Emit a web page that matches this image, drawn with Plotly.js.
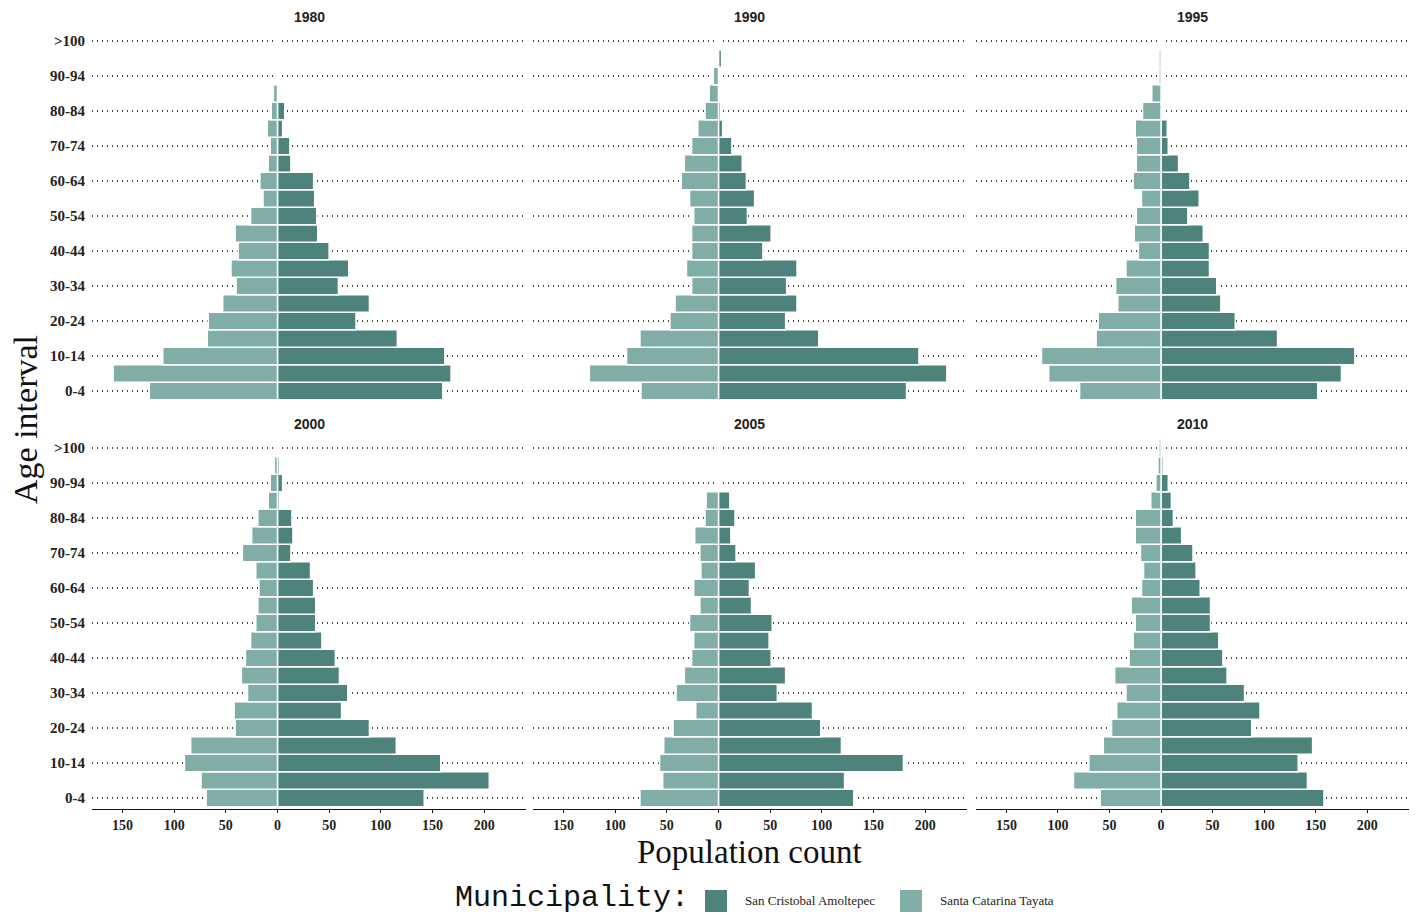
<!DOCTYPE html>
<html>
<head>
<meta charset="utf-8">
<script src="https://cdn.plot.ly/plotly-3.0.1.min.js"></script>
<style>html,body{margin:0;padding:0;background:#fff;}#chart{width:1418px;height:917px;}</style>
</head>
<body>
<div id="chart"></div>
<script>
// Age intervals, bottom to top
const ageGroups = ['0-4','5-9','10-14','15-19','20-24','25-29','30-34','35-39','40-44','45-49','50-54','55-59','60-64','65-69','70-74','75-79','80-84','85-89','90-94','95-99','>100'];
const ageTicks = ['0-4','10-14','20-24','30-34','40-44','50-54','60-64','70-74','80-84','90-94','>100'];
const years = ['1980','1990','1995','2000','2005','2010'];
const seriesNames = ['San Cristobal Amoltepec','Santa Catarina Tayata'];
const xTickVals = [-150,-100,-50,0,50,100,150,200];
const xTickText = ['150','100','50','0','50','100','150','200'];

// San Cristobal Amoltepec (right side)
const sanCristobal1980 = [160,168,162,116,76,89,59,69,50,39,38,36,35,13,12,5,7,0,0,0,0];
const sanCristobal1990 = [182,221,194,97,65,76,66,76,43,51,28,35,27,23,13,4,2,0,1,3,1];
const sanCristobal1995 = [152,175,188,113,72,58,54,47,47,41,26,37,28,17,7,6,1,1,1,0,0];
const sanCristobal2000 = [142,205,158,115,89,62,68,60,56,43,37,37,35,32,13,15,14,2,5,2,0];
const sanCristobal2005 = [131,122,179,119,99,91,57,65,51,49,52,32,30,36,17,12,16,11,0,0,1];
const sanCristobal2010 = [158,142,133,147,88,96,81,64,60,56,48,48,38,34,31,20,12,10,7,2,1];

// Santa Catarina Tayata (left side)
const santaCatarina1980 = [124,159,111,68,67,53,40,45,38,41,26,14,17,9,7,10,6,4,1,1,0];
const santaCatarina1990 = [75,125,89,76,47,42,26,31,26,26,24,28,36,33,26,20,13,9,5,1,0];
const santaCatarina1995 = [79,109,116,63,61,42,44,34,22,26,24,19,27,24,24,25,18,9,2,2,0];
const santaCatarina2000 = [69,74,90,84,41,42,29,35,31,26,21,19,18,21,34,25,19,9,7,3,1];
const santaCatarina2005 = [76,54,57,53,44,22,41,33,26,24,28,18,24,17,18,23,13,12,1,0,0];
const santaCatarina2010 = [59,85,70,56,48,43,34,45,31,27,25,29,19,17,20,25,25,10,5,3,2];

const darkSeries = [sanCristobal1980,sanCristobal1990,sanCristobal1995,sanCristobal2000,sanCristobal2005,sanCristobal2010];
const lightSeries = [santaCatarina1980,santaCatarina1990,santaCatarina1995,santaCatarina2000,santaCatarina2005,santaCatarina2010];

const darkColor = '#4E837D';
const lightColor = '#81ADA7';

const W = 1418, H = 917;
const colPx = [[92,526],[533,967],[976,1409]];
const rowPx = [[30.5,401.5],[437.5,808.5]];
const serif = 'Liberation Serif, serif';

const traces = [];
const layout = {
  width: W, height: H,
  margin: {l:0,r:0,t:0,b:0},
  paper_bgcolor: '#fff', plot_bgcolor: '#fff',
  barmode: 'overlay', bargap: 0,
  showlegend: false,
  annotations: [],
  shapes: [],
  font: {family: serif, color: '#222'}
};

years.forEach((yr, i) => {
  const r = Math.floor(i/3), c = i%3;
  const sfx = i === 0 ? '' : String(i+1);
  const xa = 'x'+sfx, ya = 'y'+sfx;
  traces.push({
    type: 'bar', orientation: 'h', name: seriesNames[0], legendgroup: 'a',
    x: darkSeries[i], y: ageGroups, xaxis: xa, yaxis: ya,
    marker: {color: darkColor, line: {color: '#fff', width: 1.5}}, hoverinfo: 'x+y'
  });
  traces.push({
    type: 'bar', orientation: 'h', name: seriesNames[1], legendgroup: 'b',
    x: lightSeries[i].map(v => -v), y: ageGroups, xaxis: xa, yaxis: ya,
    marker: {color: lightColor, line: {color: '#fff', width: 1.5}}, hoverinfo: 'x+y'
  });
  const bottom = r === 1;
  layout['xaxis'+sfx] = {
    domain: [colPx[c][0]/W, colPx[c][1]/W], anchor: ya,
    range: [-179.5, 240.5], showgrid: false, zeroline: false,
    tickvals: xTickVals, ticktext: xTickText,
    showticklabels: bottom, showline: bottom, linecolor: '#111', linewidth: 1.6,
    ticks: bottom ? 'outside' : '', ticklen: 3, tickcolor: '#111',
    tickfont: {family: serif, size: 14, weight: 'bold', color: '#222'},
    fixedrange: true
  };
  layout['yaxis'+sfx] = {
    domain: [1 - rowPx[r][1]/H, 1 - rowPx[r][0]/H], anchor: xa,
    type: 'category', categoryorder: 'array', categoryarray: ageGroups,
    range: [-0.6, 20.6],
    tickvals: ageTicks, ticktext: ageTicks,
    showticklabels: c === 0, ticks: '', ticklabelstandoff: 6,
    showgrid: true, gridcolor: '#444', gridwidth: 1.2, griddash: '1px,4px',
    zeroline: false, showline: false,
    tickfont: {family: serif, size: 15, weight: 'bold', color: '#222'},
    fixedrange: true
  };
  layout.annotations.push({
    xref: 'paper', yref: 'paper',
    x: (colPx[c][0]+colPx[c][1])/2/W, y: 1 - (r === 0 ? 17 : 424)/H,
    text: yr, showarrow: false, xanchor: 'center', yanchor: 'middle',
    font: {family: 'Liberation Sans, Arial, sans-serif', size: 14, weight: 'bold', color: '#222'}
  });
});

// axis titles
layout.annotations.push({
  xref: 'paper', yref: 'paper', x: 750/W, y: 1 - 852/H,
  text: 'Population count', showarrow: false, xanchor: 'center', yanchor: 'middle',
  font: {family: serif, size: 33, color: '#111'}
});
layout.annotations.push({
  xref: 'paper', yref: 'paper', x: 25/W, y: 1 - 420/H,
  text: 'Age interval', showarrow: false, xanchor: 'center', yanchor: 'middle', textangle: -90,
  font: {family: serif, size: 34, color: '#111'}
});

// legend (drawn by hand to match key sizes)
const legendY = 1 - 900/H;
layout.annotations.push({
  xref: 'paper', yref: 'paper', x: 690/W, y: 1/H,
  text: 'Municipality:', showarrow: false, xanchor: 'right', yanchor: 'bottom', borderpad: 0,
  font: {family: 'Liberation Mono, DejaVu Sans Mono, monospace', size: 30, color: '#111'}
});
const legendKeys = [[705, darkColor, 743, seriesNames[0]], [900, lightColor, 938, seriesNames[1]]];
legendKeys.forEach(k => {
  layout.shapes.push({
    type: 'rect', xref: 'paper', yref: 'paper',
    x0: k[0]/W, x1: (k[0]+22)/W, y0: 1 - 912/H, y1: 1 - 890/H,
    fillcolor: k[1], line: {width: 0}
  });
  layout.annotations.push({
    xref: 'paper', yref: 'paper', x: k[2]/W, y: legendY,
    text: k[3], showarrow: false, xanchor: 'left', yanchor: 'middle',
    font: {family: serif, size: 13, color: '#222'}
  });
});

Plotly.newPlot('chart', traces, layout, {displayModeBar: false, staticPlot: true});
</script>
</body>
</html>
